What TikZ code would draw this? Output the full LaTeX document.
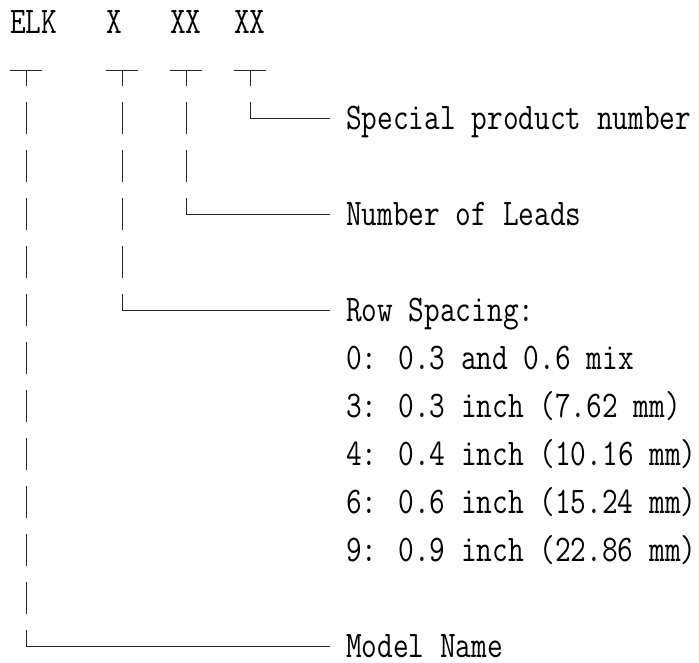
\documentclass[tikz,border=0pt]{standalone}
\usepackage{graphicx}
\usepackage{tikz}
\usetikzlibrary{positioning}

\newcommand{\cond}[1]{\scalebox{0.81}[1]{#1}}

\begin{document}
\begin{tikzpicture}[x=1pt, y=-1pt,
        lbl/.style={anchor=west, inner xsep=16pt, inner ysep=0pt, text height=23pt, text depth=0pt, font=\fontsize{37.6}{40}\selectfont\ttfamily},
        code/.style={lbl, inner xsep=0pt},
        stem/.style={draw=black!85, line width=1pt, dash pattern=on 32pt off 16pt, dash phase=16pt},
        arm/.style={draw=black!85, line width=1pt}]
            \useasboundingbox (0, 0) rectangle (699, 662);

            % part number fields
            \node[code] (elk) at (10, 22) {\cond{ELK}};
            \node[code] (rowx) at (106, 22) {\cond{X}};
            \node[code] (leadxx) at (170, 22) {\cond{XX}};
            \node[code] (specxx) at (234, 22) {\cond{XX}};

            \coordinate (t1) at (26, 70);
            \coordinate (t2) at (122, 70);
            \coordinate (t3) at (186, 70);
            \coordinate (t4) at (250, 70);

            % descriptions
            \node[lbl] (special) at (330, 118) {\cond{Special product number}};
            \node[lbl] (leads) at (330, 214) {\cond{Number of Leads}};
            \node[lbl] (spacing) at (330, 310) {\cond{Row Spacing:}};
            \node[lbl] (s0) at (330, 358) {\cond{0: 0.3 and 0.6 mix}};
            \node[lbl] (s3) at (330, 406) {\cond{3: 0.3 inch (7.62 mm)}};
            \node[lbl] (s4) at (330, 454) {\cond{4: 0.4 inch (10.16 mm)}};
            \node[lbl] (s6) at (330, 502) {\cond{6: 0.6 inch (15.24 mm)}};
            \node[lbl] (s9) at (330, 550) {\cond{9: 0.9 inch (22.86 mm)}};
            \node[lbl] (model) at (330, 646) {\cond{Model Name}};

            \draw[arm] ([xshift=-16pt]t1) -- ([xshift=16pt]t1);
            \draw[arm] ([xshift=-16pt]t2) -- ([xshift=16pt]t2);
            \draw[arm] ([xshift=-16pt]t3) -- ([xshift=16pt]t3);
            \draw[arm] ([xshift=-16pt]t4) -- ([xshift=16pt]t4);

            \draw[stem] (t4) -- (t4 |- special.west);
            \draw[arm] ([xshift=-0.5pt]t4 |- special.west) -- (special.west);
            \draw[stem] (t3) -- (t3 |- leads.west);
            \draw[arm] ([xshift=-0.5pt]t3 |- leads.west) -- (leads.west);
            \draw[stem] (t2) -- (t2 |- spacing.west);
            \draw[arm] ([xshift=-0.5pt]t2 |- spacing.west) -- (spacing.west);
            \draw[stem] (t1) -- (t1 |- model.west);
            \draw[arm] ([xshift=-0.5pt]t1 |- model.west) -- (model.west);
        \end{tikzpicture}
\end{document}
